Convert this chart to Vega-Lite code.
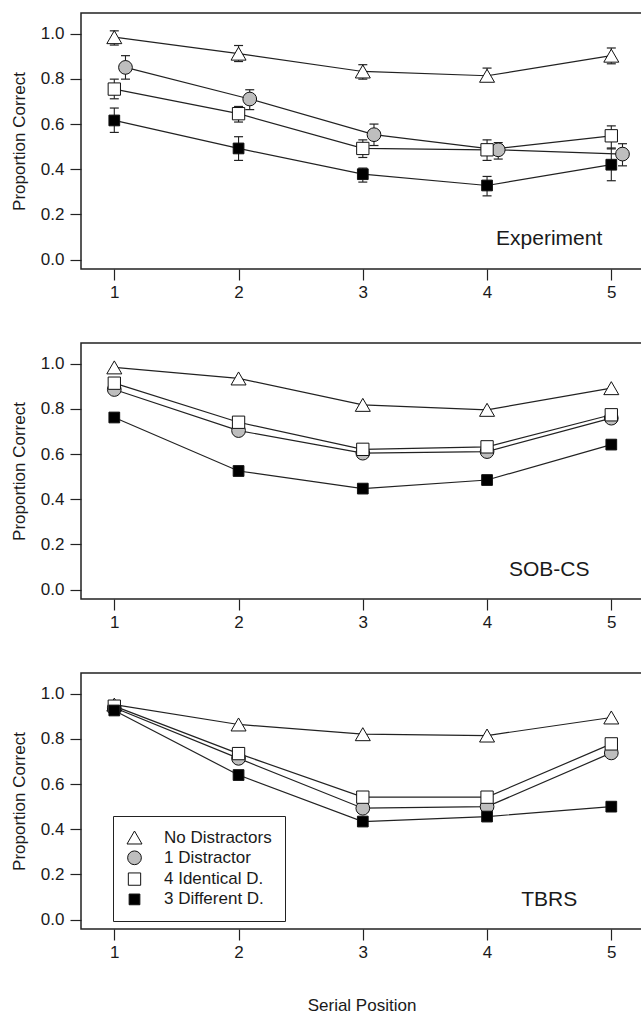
{
  "$schema": "https://vega.github.io/schema/vega-lite/v6.json",
  "padding": {"left": 9, "top": 12, "right": 0, "bottom": 0},
  "background": "white",
  "config": {
    "font": "Liberation Sans",
    "view": {"stroke": "#222222", "strokeWidth": 1.5},
    "axis": {"grid": false, "domain": false, "tickColor": "#222222", "tickSize": 11, "tickWidth": 1.2,
      "labelFontSize": 17, "labelColor": "#1a1a1a", "labelFont": "Liberation Sans",
      "titleFont": "Liberation Sans", "titleFontSize": 17, "titleFontWeight": "normal", "titleColor": "#1a1a1a"},
    "legend": {"orient": "none", "legendX": 32, "legendY": 143, "title": null, "strokeColor": "#222222", "fillColor": "#ffffff", "padding": 13,
      "labelFontSize": 17, "labelFont": "Liberation Sans", "labelColor": "#1a1a1a", "labelOffset": 21, "rowPadding": 2.3,
      "symbolStrokeWidth": 1, "symbolOffset": 0}
  },
  "datasets": {
    "exp": [
      {"cond": "No Distractors", "x": 1, "p": 0.985, "lo": 0.950, "hi": 1.013},
      {"cond": "No Distractors", "x": 2, "p": 0.912, "lo": 0.877, "hi": 0.948},
      {"cond": "No Distractors", "x": 3, "p": 0.833, "lo": 0.799, "hi": 0.863},
      {"cond": "No Distractors", "x": 4, "p": 0.814, "lo": 0.789, "hi": 0.848},
      {"cond": "No Distractors", "x": 5, "p": 0.903, "lo": 0.867, "hi": 0.937},
      {"cond": "1 Distractor", "x": 1.09, "p": 0.851, "lo": 0.799, "hi": 0.903},
      {"cond": "1 Distractor", "x": 2.09, "p": 0.711, "lo": 0.664, "hi": 0.752},
      {"cond": "1 Distractor", "x": 3.09, "p": 0.553, "lo": 0.505, "hi": 0.600},
      {"cond": "1 Distractor", "x": 4.09, "p": 0.486, "lo": 0.445, "hi": 0.518},
      {"cond": "1 Distractor", "x": 5.09, "p": 0.467, "lo": 0.415, "hi": 0.513},
      {"cond": "4 Identical D.", "x": 1, "p": 0.755, "lo": 0.712, "hi": 0.799},
      {"cond": "4 Identical D.", "x": 2, "p": 0.646, "lo": 0.609, "hi": 0.678},
      {"cond": "4 Identical D.", "x": 3, "p": 0.492, "lo": 0.452, "hi": 0.530},
      {"cond": "4 Identical D.", "x": 4, "p": 0.486, "lo": 0.439, "hi": 0.530},
      {"cond": "4 Identical D.", "x": 5, "p": 0.548, "lo": 0.490, "hi": 0.592},
      {"cond": "3 Different D.", "x": 1, "p": 0.616, "lo": 0.563, "hi": 0.671},
      {"cond": "3 Different D.", "x": 2, "p": 0.492, "lo": 0.439, "hi": 0.544},
      {"cond": "3 Different D.", "x": 3, "p": 0.378, "lo": 0.343, "hi": 0.405},
      {"cond": "3 Different D.", "x": 4, "p": 0.328, "lo": 0.282, "hi": 0.368},
      {"cond": "3 Different D.", "x": 5, "p": 0.420, "lo": 0.349, "hi": 0.494}
    ],
    "sob": [
      {"cond": "No Distractors", "x": 1, "p": 0.984},
      {"cond": "No Distractors", "x": 2, "p": 0.935},
      {"cond": "No Distractors", "x": 3, "p": 0.818},
      {"cond": "No Distractors", "x": 4, "p": 0.796},
      {"cond": "No Distractors", "x": 5, "p": 0.892},
      {"cond": "1 Distractor", "x": 1, "p": 0.886},
      {"cond": "1 Distractor", "x": 2, "p": 0.704},
      {"cond": "1 Distractor", "x": 3, "p": 0.604},
      {"cond": "1 Distractor", "x": 4, "p": 0.611},
      {"cond": "1 Distractor", "x": 5, "p": 0.759},
      {"cond": "4 Identical D.", "x": 1, "p": 0.914},
      {"cond": "4 Identical D.", "x": 2, "p": 0.741},
      {"cond": "4 Identical D.", "x": 3, "p": 0.621},
      {"cond": "4 Identical D.", "x": 4, "p": 0.632},
      {"cond": "4 Identical D.", "x": 5, "p": 0.774},
      {"cond": "3 Different D.", "x": 1, "p": 0.762},
      {"cond": "3 Different D.", "x": 2, "p": 0.525},
      {"cond": "3 Different D.", "x": 3, "p": 0.447},
      {"cond": "3 Different D.", "x": 4, "p": 0.485},
      {"cond": "3 Different D.", "x": 5, "p": 0.642}
    ],
    "tbrs": [
      {"cond": "No Distractors", "x": 1, "p": 0.952},
      {"cond": "No Distractors", "x": 2, "p": 0.864},
      {"cond": "No Distractors", "x": 3, "p": 0.821},
      {"cond": "No Distractors", "x": 4, "p": 0.815},
      {"cond": "No Distractors", "x": 5, "p": 0.895},
      {"cond": "1 Distractor", "x": 1, "p": 0.938},
      {"cond": "1 Distractor", "x": 2, "p": 0.714},
      {"cond": "1 Distractor", "x": 3, "p": 0.493},
      {"cond": "1 Distractor", "x": 4, "p": 0.500},
      {"cond": "1 Distractor", "x": 5, "p": 0.738},
      {"cond": "4 Identical D.", "x": 1, "p": 0.945},
      {"cond": "4 Identical D.", "x": 2, "p": 0.735},
      {"cond": "4 Identical D.", "x": 3, "p": 0.542},
      {"cond": "4 Identical D.", "x": 4, "p": 0.542},
      {"cond": "4 Identical D.", "x": 5, "p": 0.778},
      {"cond": "3 Different D.", "x": 1, "p": 0.926},
      {"cond": "3 Different D.", "x": 2, "p": 0.640},
      {"cond": "3 Different D.", "x": 3, "p": 0.434},
      {"cond": "3 Different D.", "x": 4, "p": 0.456},
      {"cond": "3 Different D.", "x": 5, "p": 0.500}
    ]
  },
  "bounds": "flush",
  "spacing": 74,
  "resolve": {"legend": {"shape": "independent", "fill": "independent", "size": "independent", "stroke": "independent"}},
  "vconcat": [
    {
      "width": 561, "height": 256,
      "data": {"name": "exp"},
      "layer": [
        {"mark": {"type": "rule", "color": "#222222", "strokeWidth": 1.1},
         "encoding": {
           "x": {"field": "x", "type": "quantitative", "scale": {"domain": [0.732, 5.247], "nice": false, "zero": false},
                 "axis": {"values": [1, 2, 3, 4, 5], "format": "d", "labelPadding": 4, "title": null}},
           "y": {"field": "lo", "type": "quantitative", "scale": {"domain": [-0.042, 1.092], "nice": false, "zero": false},
                 "axis": {"values": [0, 0.2, 0.4, 0.6, 0.8, 1.0], "format": ".1f", "labelPadding": 6, "title": "Proportion Correct", "titlePadding": 12}},
           "y2": {"field": "hi"}}},
        {"mark": {"type": "tick", "orient": "horizontal", "size": 9, "thickness": 1.2, "color": "#222222", "opacity": 1},
         "encoding": {"x": {"field": "x", "type": "quantitative"}, "y": {"field": "lo", "type": "quantitative"}}},
        {"mark": {"type": "tick", "orient": "horizontal", "size": 9, "thickness": 1.2, "color": "#222222", "opacity": 1},
         "encoding": {"x": {"field": "x", "type": "quantitative"}, "y": {"field": "hi", "type": "quantitative"}}},
        {"mark": {"type": "line", "color": "#222222", "strokeWidth": 1.2},
         "encoding": {"x": {"field": "x", "type": "quantitative"}, "y": {"field": "p", "type": "quantitative"},
           "detail": {"field": "cond"}, "order": {"field": "x"}}},
        {"mark": {"type": "point", "filled": true, "strokeWidth": 1, "opacity": 1},
         "encoding": {"x": {"field": "x", "type": "quantitative"}, "y": {"field": "p", "type": "quantitative"},
           "shape": {"field": "cond", "type": "nominal", "scale": {"domain": ["No Distractors", "1 Distractor", "4 Identical D.", "3 Different D."], "range": ["triangle-up", "circle", "square", "square"]}, "legend": null},
           "fill": {"field": "cond", "type": "nominal", "scale": {"domain": ["No Distractors", "1 Distractor", "4 Identical D.", "3 Different D."], "range": ["#ffffff", "#bebebe", "#ffffff", "#000000"]}, "legend": null},
           "stroke": {"field": "cond", "type": "nominal", "scale": {"domain": ["No Distractors", "1 Distractor", "4 Identical D.", "3 Different D."], "range": ["#111111", "#111111", "#111111", "#111111"]}, "legend": null},
           "size": {"field": "cond", "type": "nominal", "scale": {"domain": ["No Distractors", "1 Distractor", "4 Identical D.", "3 Different D."], "range": [225, 115, 100, 121]}, "legend": null}}},
        {"data": {"values": [{"label": "Experiment"}]},
         "mark": {"type": "text", "fontSize": 21, "fontWeight": "normal", "font": "Liberation Sans", "color": "#1a1a1a", "align": "center", "baseline": "middle"},
         "encoding": {"x": {"datum": 4.5, "type": "quantitative"}, "y": {"datum": 0.09, "type": "quantitative"}, "text": {"field": "label"}}}
      ]
    },
    {
      "width": 561, "height": 256,
      "data": {"name": "sob"},
      "layer": [
        {"mark": {"type": "line", "color": "#222222", "strokeWidth": 1.2},
         "encoding": {
           "x": {"field": "x", "type": "quantitative", "scale": {"domain": [0.732, 5.247], "nice": false, "zero": false},
                 "axis": {"values": [1, 2, 3, 4, 5], "format": "d", "labelPadding": 4, "title": null}},
           "y": {"field": "p", "type": "quantitative", "scale": {"domain": [-0.042, 1.092], "nice": false, "zero": false},
                 "axis": {"values": [0, 0.2, 0.4, 0.6, 0.8, 1.0], "format": ".1f", "labelPadding": 6, "title": "Proportion Correct", "titlePadding": 12}},
           "detail": {"field": "cond"}, "order": {"field": "x"}}},
        {"mark": {"type": "point", "filled": true, "strokeWidth": 1, "opacity": 1},
         "encoding": {"x": {"field": "x", "type": "quantitative"}, "y": {"field": "p", "type": "quantitative"},
           "shape": {"field": "cond", "type": "nominal", "scale": {"domain": ["No Distractors", "1 Distractor", "4 Identical D.", "3 Different D."], "range": ["triangle-up", "circle", "square", "square"]}, "legend": null},
           "fill": {"field": "cond", "type": "nominal", "scale": {"domain": ["No Distractors", "1 Distractor", "4 Identical D.", "3 Different D."], "range": ["#ffffff", "#bebebe", "#ffffff", "#000000"]}, "legend": null},
           "stroke": {"field": "cond", "type": "nominal", "scale": {"domain": ["No Distractors", "1 Distractor", "4 Identical D.", "3 Different D."], "range": ["#111111", "#111111", "#111111", "#111111"]}, "legend": null},
           "size": {"field": "cond", "type": "nominal", "scale": {"domain": ["No Distractors", "1 Distractor", "4 Identical D.", "3 Different D."], "range": [225, 115, 100, 121]}, "legend": null}}},
        {"data": {"values": [{"label": "SOB-CS"}]},
         "mark": {"type": "text", "fontSize": 21, "fontWeight": "normal", "font": "Liberation Sans", "color": "#1a1a1a", "align": "center", "baseline": "middle"},
         "encoding": {"x": {"datum": 4.5, "type": "quantitative"}, "y": {"datum": 0.086, "type": "quantitative"}, "text": {"field": "label"}}}
      ]
    },
    {
      "width": 561, "height": 256,
      "data": {"name": "tbrs"},
      "layer": [
        {"mark": {"type": "line", "color": "#222222", "strokeWidth": 1.2},
         "encoding": {
           "x": {"field": "x", "type": "quantitative", "scale": {"domain": [0.732, 5.247], "nice": false, "zero": false},
                 "axis": {"values": [1, 2, 3, 4, 5], "format": "d", "labelPadding": 4, "title": "Serial Position", "titlePadding": 37}},
           "y": {"field": "p", "type": "quantitative", "scale": {"domain": [-0.042, 1.092], "nice": false, "zero": false},
                 "axis": {"values": [0, 0.2, 0.4, 0.6, 0.8, 1.0], "format": ".1f", "labelPadding": 6, "title": "Proportion Correct", "titlePadding": 12}},
           "detail": {"field": "cond"}, "order": {"field": "x"}}},
        {"mark": {"type": "point", "filled": true, "strokeWidth": 1, "opacity": 1},
         "encoding": {"x": {"field": "x", "type": "quantitative"}, "y": {"field": "p", "type": "quantitative"},
           "shape": {"field": "cond", "type": "nominal", "scale": {"domain": ["No Distractors", "1 Distractor", "4 Identical D.", "3 Different D."], "range": ["triangle-up", "circle", "square", "square"]}},
           "fill": {"field": "cond", "type": "nominal", "scale": {"domain": ["No Distractors", "1 Distractor", "4 Identical D.", "3 Different D."], "range": ["#ffffff", "#bebebe", "#ffffff", "#000000"]}},
           "stroke": {"field": "cond", "type": "nominal", "scale": {"domain": ["No Distractors", "1 Distractor", "4 Identical D.", "3 Different D."], "range": ["#111111", "#111111", "#111111", "#111111"]}},
           "size": {"field": "cond", "type": "nominal", "scale": {"domain": ["No Distractors", "1 Distractor", "4 Identical D.", "3 Different D."], "range": [225, 115, 100, 121]}}}},
        {"data": {"values": [{"label": "TBRS"}]},
         "mark": {"type": "text", "fontSize": 21, "fontWeight": "normal", "font": "Liberation Sans", "color": "#1a1a1a", "align": "center", "baseline": "middle"},
         "encoding": {"x": {"datum": 4.5, "type": "quantitative"}, "y": {"datum": 0.086, "type": "quantitative"}, "text": {"field": "label"}}}
      ]
    }
  ]
}
